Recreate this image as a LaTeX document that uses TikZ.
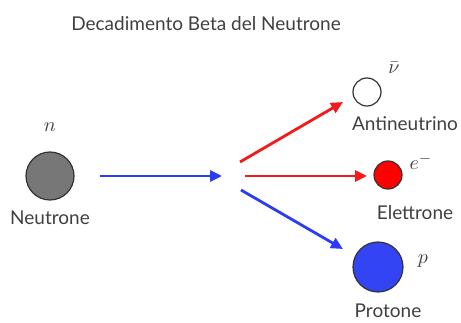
\documentclass[tikz,border=0pt]{standalone}
\usepackage{fontspec}
\setmainfont{Lato}
\usetikzlibrary{arrows.meta}
\definecolor{ared}{HTML}{F21A1A}
\definecolor{ablue}{HTML}{2A3CF5}
\definecolor{pblue}{HTML}{3344F5}
\definecolor{ngray}{HTML}{777777}
\tikzset{
  particle/.style={circle, draw=black!80, line width=1.2pt, inner sep=0pt},
  lbl/.style={font=\fontsize{19}{21}\selectfont, text=black!75, inner sep=0pt},
  sym/.style={text=black!75, inner sep=0pt},
  flow/.style={line width=2.8pt, -{Triangle[length=12pt,width=11pt]}},
}
\newcommand{\bigsym}[1]{\scalebox{2}{$#1$}}
\begin{document}
\begin{tikzpicture}[x=1pt,y=-1pt]
\useasboundingbox (0,0) rectangle (461,323);
\node[lbl] (title) at (206,24) {Decadimento Beta del Neutrone};
% neutron
\node[particle, fill=ngray, minimum size=48pt] (n) at (50,176) {};
\node[sym] (nsym) at (50,127) {\bigsym{n}};
\node[lbl] (nlbl) at (50,218) {Neutrone};
% decay point
\coordinate (nend) at (222,176);
\coordinate (s1) at (240,162);
\coordinate (s2) at (245,176);
\coordinate (s3) at (241,190);
% antineutrino
\node[particle, fill=white, minimum size=28pt] (nu) at (367,92) {};
\node[sym] (nusym) at (394,68) {\bigsym{\bar{\nu}}};
\node[lbl] (nulbl) at (405,124) {Antineutrino};
% electron
\node[particle, fill=red, minimum size=28pt] (e) at (388,175) {};
\node[sym] (esym) at (421,162) {\bigsym{e^{-}}};
\node[lbl] (elbl) at (415,213) {Elettrone};
% proton
\node[particle, fill=pblue, minimum size=50pt] (p) at (378,267) {};
\node[sym] (psym) at (423,261) {\bigsym{p}};
\node[lbl] (plbl) at (388,311) {Protone};
% arrows
\draw[flow, ablue] (100,176) -- (nend);
\draw[flow, ared] (s1) -- (343,102);
\draw[flow, ared] (s2) -- (367,176);
\draw[flow, ablue] (s3) -- (343,249);
\end{tikzpicture}
\end{document}
